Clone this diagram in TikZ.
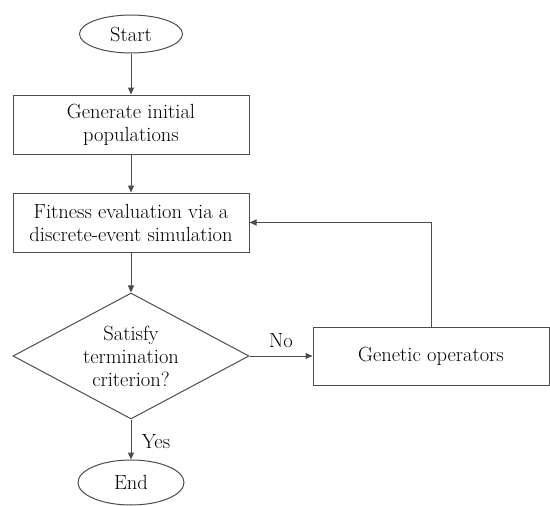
\documentclass[tikz,border=0pt]{standalone}
\usetikzlibrary{shapes.geometric,arrows.meta}
\begin{document}
\begin{tikzpicture}[x=1pt,y=-1pt,
  every node/.style={font=\rmfamily\fontsize{20.5}{23}\selectfont, text=black},
  line/.style={draw=black!70, line width=1pt},
  arr/.style={line, -{Triangle[width=6pt,length=7pt]}},
  term/.style={line, ellipse, inner sep=0pt},
  procbox/.style={line, rectangle, minimum width=236pt, minimum height=59pt, align=center, inner sep=0pt},
  decide/.style={line, diamond, minimum width=236pt, minimum height=126pt, align=center, inner sep=0pt, aspect=1.873}
]
\useasboundingbox (0,0) rectangle (550,506);
\node[term, minimum width=103pt, minimum height=38pt] (start) at (131,34) {Start};
\node[procbox] (gen) at (131,124.5) {Generate initial\\populations};
\node[procbox] (fit) at (131,222.5) {Fitness evaluation via a\\discrete-event simulation};
\node[decide] (dec) at (131,356) {Satisfy\\termination\\criterion?};
\node[term, minimum width=106pt, minimum height=45pt] (end) at (131,482.5) {End};
\node[procbox, minimum height=58pt] (gop) at (431,356) {Genetic operators};
\draw[arr] (start) -- (gen);
\draw[arr] (gen) -- (fit);
\draw[arr] (fit) -- (dec);
\draw[arr] (dec) -- (end);
\draw[arr] (dec.east) -- (gop.west);
\draw[arr] (gop.north) |- (fit.east);
\node (no) at (281,341) {No};
\node (yes) at (156,442) {Yes};
\end{tikzpicture}
\end{document}
